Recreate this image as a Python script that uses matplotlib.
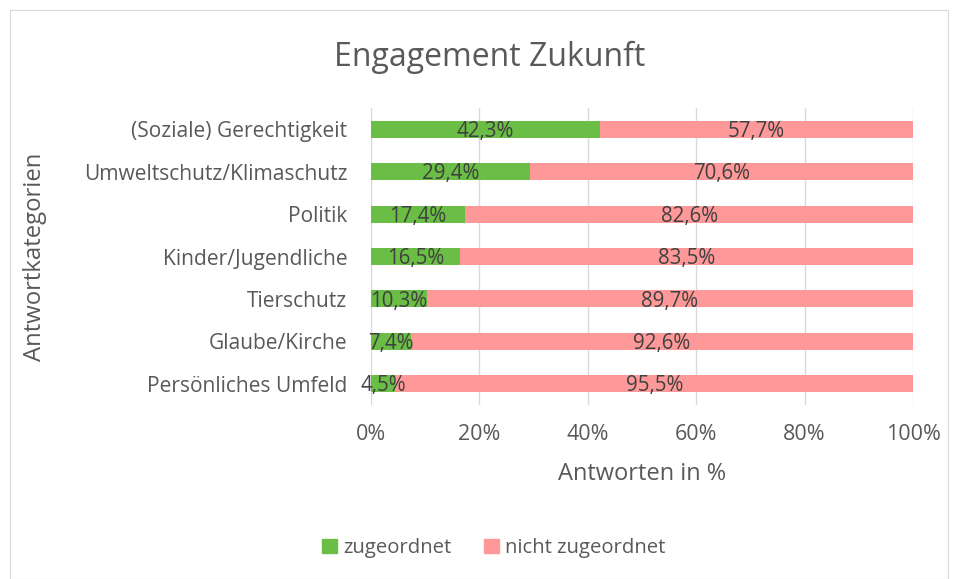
import matplotlib
matplotlib.use("Agg")
import matplotlib.pyplot as plt
from matplotlib.patches import Rectangle, Patch
import numpy as np

categories = ["(Soziale) Gerechtigkeit", "Umweltschutz/Klimaschutz", "Politik",
              "Kinder/Jugendliche", "Tierschutz", "Glaube/Kirche", "Persönliches Umfeld"]
zugeordnet = [42.3, 29.4, 17.4, 16.5, 10.3, 7.4, 4.5]
nicht_zugeordnet = [57.7, 70.6, 82.6, 83.5, 89.7, 92.6, 95.5]
xticks = [0, 20, 40, 60, 80, 100]
xticklabels = ["0%", "20%", "40%", "60%", "80%", "100%"]

plt.rcParams['font.family'] = ['Open Sans', 'DejaVu Sans']

GREEN = "#6ABD45"
PINK = "#FF9999"
TXT = "#595959"
LBL = "#404040"

fig = plt.figure(figsize=(9.57, 5.79), dpi=100)
fig.patches.append(Rectangle((10/957, 0), 938/957, 1 - 10/579, transform=fig.transFigure,
                             fill=False, edgecolor="#D9D9D9", linewidth=0.8))
ax = fig.add_axes([371/957, 1 - 405/579, (913 - 371)/957, (405 - 108)/579])

y = np.arange(len(categories))
h = 0.4
ax.barh(y, zugeordnet, height=h, color=GREEN, zorder=3)
ax.barh(y, nicht_zugeordnet, left=zugeordnet, height=h, color=PINK, zorder=3)

def fmt(v):
    return f"{v:.1f}%".replace(".", ",")

for i in range(len(categories)):
    ax.text(zugeordnet[i] / 2, y[i] + 0.05, fmt(zugeordnet[i]), ha="center", va="center",
            color=LBL, fontsize=14.8, zorder=4)
    ax.text(zugeordnet[i] + nicht_zugeordnet[i] / 2, y[i] + 0.05, fmt(nicht_zugeordnet[i]),
            ha="center", va="center", color=LBL, fontsize=14.8, zorder=4)

ax.set_xlim(0, 100)
ax.set_ylim(len(categories) - 0.5, -0.5)
ax.set_xticks(xticks)
ax.set_xticklabels(xticklabels, color=TXT, fontsize=15.5)
ax.set_yticks(y)
ax.set_yticklabels(categories, color=TXT, fontsize=15.1)
ax.tick_params(axis="both", length=0)
ax.tick_params(axis="x", pad=14)
ax.tick_params(axis="y", pad=17)
ax.grid(axis="x", color="#D9D9D9", linewidth=1, zorder=0)
for s in ax.spines.values():
    s.set_visible(False)

ax.set_xlabel("Antworten in %", color=TXT, fontsize=17, labelpad=12)
fig.text(35/957, 1 - 257/579, "Antwortkategorien", rotation=90, ha="center", va="center",
         color=TXT, fontsize=17.2)
fig.text(490/957, 1 - 57/579, "Engagement Zukunft", ha="center", va="center",
         color=TXT, fontsize=23)

handles = [Patch(color=GREEN, label="zugeordnet"), Patch(color=PINK, label="nicht zugeordnet")]
fig.legend(handles=handles, loc="center", bbox_to_anchor=(494/957, 1 - 548/579), ncol=2,
           frameon=False, fontsize=14.6, labelcolor=TXT, handlelength=0.75, handleheight=0.75,
           columnspacing=1.6, handletextpad=0.3)

fig.savefig("out.png", dpi=100)
